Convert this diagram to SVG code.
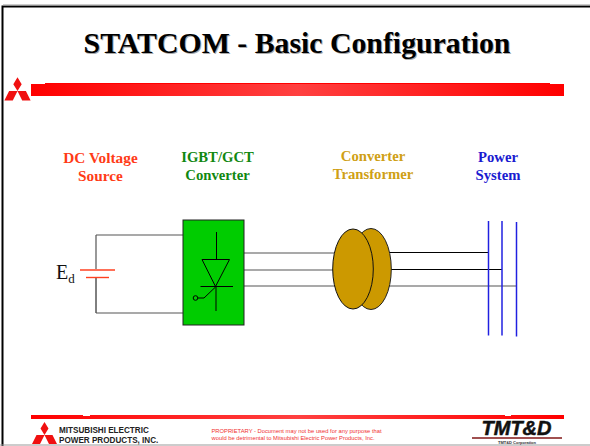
<svg xmlns="http://www.w3.org/2000/svg" width="590" height="446" viewBox="0 0 590 446">
<style>
text{font-family:"Liberation Serif",serif}
.lb{font-size:14.7px;font-weight:bold;text-anchor:middle}
.w{fill:none;stroke:#000;stroke-width:1}
.g{fill:none;stroke:#555;stroke-width:1.2}
.bus{stroke:#2020e0;stroke-width:1.5;fill:none}
.ft{font-family:"Liberation Sans",sans-serif}
.pl{stroke:#ff4020;stroke-width:1.4}
</style>
<defs>
<linearGradient id="rg" x1="0" x2="1" y1="0" y2="0"><stop offset="0" stop-color="#ff0000"/><stop offset="0.5" stop-color="#ff4040"/><stop offset="1" stop-color="#ff0000"/></linearGradient>
<path id="logo" d="M0,-13L4,-6.500L0,0L-4,-6.500ZM0,0L8,0L12.500,9L4.500,9ZM0,0L-8,0L-12.500,9L-4.500,9Z" fill="#f01010"/>
</defs>
<rect width="590" height="446" fill="#fff"/>
<g id="frame">
<path d="M2.500,446V6.500H590" fill="none" stroke="#000" stroke-width="2"/>
<path d="M3,5H590" stroke="#999" stroke-width="1"/>
<path d="M0,445H590" stroke="#999" stroke-width="1"/>
</g>
<g id="title">
<text x="297" y="53" font-size="29.800" font-weight="bold" text-anchor="middle" fill="#aaa" transform="translate(1,1)">STATCOM - Basic Configuration</text>
<text x="297" y="53" font-size="29.800" font-weight="bold" text-anchor="middle">STATCOM - Basic Configuration</text>
</g>
<g id="header-bar">
<use href="#logo" transform="translate(17.500,91) scale(1.050)"/>
<rect x="45" y="83" width="505" height="2" fill="#ff0000"/>
<rect x="31" y="84" width="533" height="12" fill="url(#rg)"/>
</g>
<g id="connectors">
<path class="g" d="M96,235H183M96,235V269"/>
<path class="w" d="M96,277V313"/>
<path class="g" d="M96,313H183"/>
<path class="g" d="M244,253H340"/>
<path class="g" d="M244,270H340"/>
<path class="g" d="M244,286H340"/>
<path class="w" d="M385,252.500H488"/>
<path class="w" d="M385,269.500H502"/>
<path class="g" d="M385,286H517"/>
</g>
<g id="dc-source">
<path class="pl" d="M80,270H115"/>
<path class="pl" d="M86,277.500H109"/>
<text x="56" y="279" font-size="20" fill="#111">E<tspan font-size="13" dy="4">d</tspan></text>
<text class="lb" x="100.500" y="163" fill="#ff3b17" style="font-size:15.300px">DC Voltage</text>
<text class="lb" x="100.500" y="181" fill="#ff3b17" style="font-size:15.300px">Source</text>
</g>
<g id="converter">
<rect x="183" y="220" width="61" height="105" fill="#00cc00" stroke="#222" stroke-width="1"/>
<path class="w" d="M216.500,232V259M202,259.500H229.500L215.500,286.500ZM200.500,286.500H233M216,286V311"/>
<path class="w" d="M215.500,287L204,298H198"/>
<circle cx="195.500" cy="298" r="2.300" fill="none" stroke="#000"/>
<text class="lb" x="217.500" y="162" fill="#118811">IGBT/GCT</text>
<text class="lb" x="217.500" y="180" fill="#118811">Converter</text>
</g>
<g id="transformer">
<ellipse cx="371" cy="269" rx="20.300" ry="40.500" fill="#cc9900" stroke="#222" stroke-width="1"/>
<ellipse cx="353" cy="269" rx="20.300" ry="40" fill="#cc9900" stroke="#111" stroke-width="1"/>
<text class="lb" x="373" y="161" fill="#cfa015">Converter</text>
<text class="lb" x="373" y="179" fill="#cfa015">Transformer</text>
</g>
<g id="power-system">
<path class="bus" d="M488.500,221V335.500"/>
<path class="bus" d="M502,221V335.500"/>
<path class="bus" d="M516.500,222V336.500"/>
<text class="lb" x="498" y="162" fill="#1a1ad0">Power</text>
<text class="lb" x="498" y="180" fill="#1a1ad0">System</text>
</g>
<g id="footer">
<rect x="31" y="415" width="533" height="4" fill="url(#rg)"/>
<rect x="83" y="415" width="7" height="1" fill="#fff"/>
<rect x="505" y="415" width="6" height="1" fill="#fff"/>
<use href="#logo" transform="translate(44.500,435)"/>
<text class="ft" x="59" y="433" font-size="8.150" font-weight="bold" fill="#222">MITSUBISHI ELECTRIC</text>
<text class="ft" x="59" y="443" font-size="8.150" font-weight="bold" fill="#222">POWER PRODUCTS, INC.</text>
<text class="ft" x="211.500" y="433" font-size="5.800" fill="#f03030">PROPRIETARY - Document may not be used for any purpose that</text>
<text class="ft" x="211.500" y="440" font-size="5.800" fill="#f03030">would be detrimental to Mitsubishi Electric Power Products, Inc.</text>
<text class="ft" x="516.500" y="435" font-size="20" font-weight="bold" font-style="italic" text-anchor="middle" fill="#111" stroke="#111" stroke-width="0.500">TMT&amp;D</text>
<rect x="472" y="437" width="90" height="2" fill="#a05050"/>
<text class="ft" x="517" y="444" font-size="4" font-weight="bold" text-anchor="middle" fill="#333">TMT&amp;D Corporation</text>
</g>
</svg>
